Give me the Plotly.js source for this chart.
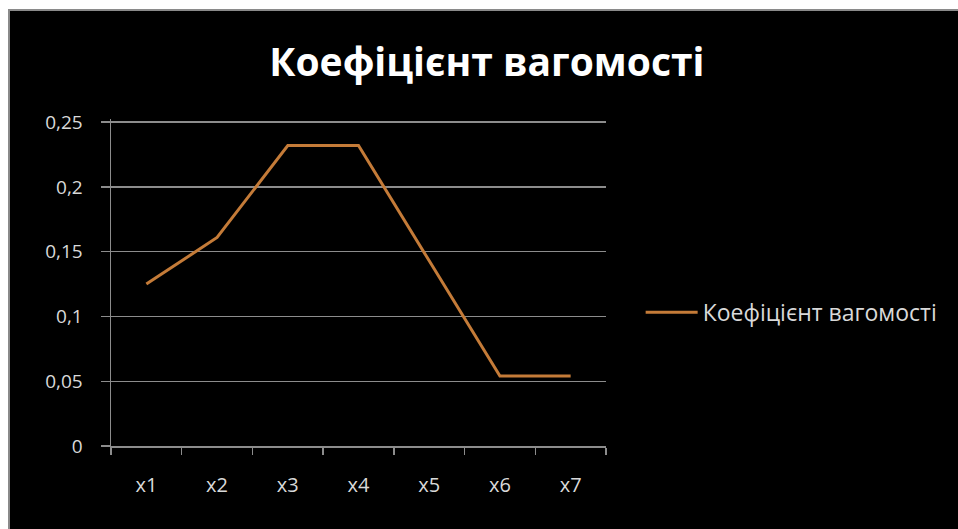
<!DOCTYPE html>
<html>
<head>
<meta charset="utf-8">
<script src="https://cdn.plot.ly/plotly-3.0.1.min.js"></script>
<style>
html,body{margin:0;padding:0;background:#ffffff;width:958px;height:529px;overflow:hidden;}
#chart{position:absolute;left:8px;top:9px;width:950px;height:520px;background:#000;border-left:2px solid #8a8a8a;border-top:2px solid #8a8a8a;box-sizing:border-box;}
</style>
</head>
<body>
<div id="chart"></div>
<script>
const categories = ['x1','x2','x3','x4','x5','x6','x7'];
const weights = [0.125, 0.161, 0.232, 0.232, 0.143, 0.054, 0.054];
const seriesName = 'Коефіцієнт вагомості';
const chartTitle = 'Коефіцієнт вагомості';
const yTickVals = [0, 0.05, 0.1, 0.15, 0.2, 0.25];
const yTickText = ['0', '0,05', '0,1', '0,15', '0,2', '0,25'];

const trace = {
  x: categories,
  y: weights,
  type: 'scatter',
  mode: 'lines',
  name: seriesName,
  line: {color: '#c47b38', width: 3}
};

const layout = {
  width: 948,
  height: 518,
  paper_bgcolor: '#000000',
  plot_bgcolor: '#000000',
  margin: {l: 101, r: 352, t: 108, b: 83},
  font: {family: 'Open Sans, sans-serif', color: '#d9d9d9', size: 19},
  title: {
    text: '<b>' + chartTitle + '</b>',
    font: {family: 'Open Sans, sans-serif', size: 39, color: '#ffffff'},
    x: 0.503, xanchor: 'center',
    y: 0.9, yanchor: 'middle'
  },
  xaxis: {
    type: 'category',
    range: [-0.5, 6.5],
    showgrid: false,
    showline: true,
    linecolor: '#8c8c8c',
    linewidth: 1.5,
    ticks: 'outside',
    tickson: 'boundaries',
    ticklen: 7,
    tickcolor: '#8c8c8c',
    tickwidth: 1.5,
    ticklabelstandoff: 20,
    tickfont: {size: 20, color: '#d9d9d9'},
    zeroline: false,
    fixedrange: true
  },
  yaxis: {
    range: [0, 0.2525],
    tickvals: yTickVals,
    ticktext: yTickText,
    showgrid: true,
    gridcolor: '#8c8c8c',
    gridwidth: 1.5,
    showline: true,
    linecolor: '#8c8c8c',
    linewidth: 1.5,
    ticks: 'outside',
    ticklen: 9,
    tickcolor: '#8c8c8c',
    tickwidth: 1.5,
    ticklabelstandoff: 14,
    tickfont: {size: 19, color: '#d9d9d9'},
    zeroline: false,
    fixedrange: true
  },
  showlegend: true,
  legend: {
    x: 1.07, xanchor: 'left',
    y: 0.409, yanchor: 'middle',
    itemwidth: 52,
    bgcolor: 'rgba(0,0,0,0)',
    font: {size: 23, color: '#d9d9d9'}
  }
};

Plotly.newPlot('chart', [trace], layout, {displayModeBar: false, staticPlot: true});
</script>
</body>
</html>
